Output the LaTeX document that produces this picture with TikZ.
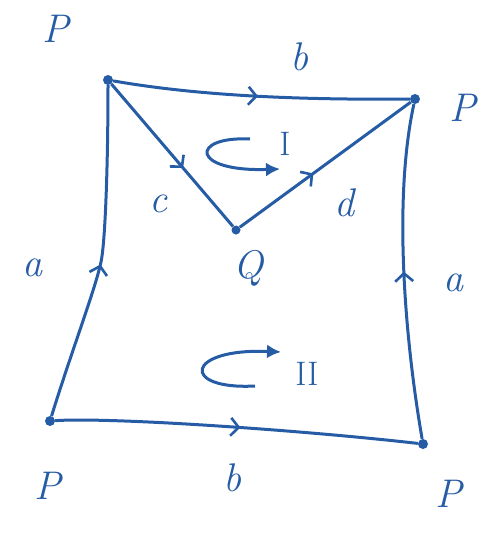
\documentclass[tikz,border=0pt]{standalone}
\usetikzlibrary{arrows.meta,decorations.markings}
\definecolor{ink}{RGB}{38,92,165}
\begin{document}
\begin{tikzpicture}[x=1pt,y=-1pt,
  edge/.style={draw=ink,line width=3pt,postaction={decorate},
    decoration={markings,mark=at position #1 with {\arrow[ink,line width=2.6pt]{Straight Barb[length=8pt,width=18pt]}}}},
  edge/.default=0.5,
  vtx/.style={circle,fill=ink,inner sep=0pt,minimum size=10pt},
  lbl/.style={text=ink,font=\fontsize{40}{46}\selectfont\itshape},
  rot/.style={draw=ink,line width=3pt,-{Latex[length=14pt,width=14pt]}}]
\useasboundingbox (0,0) rectangle (481,554);
\node[vtx] (tl) at (108,80) {};
\node[vtx] (tr) at (415,99) {};
\node[vtx] (bl) at (50,421) {};
\node[vtx] (br) at (423,444) {};
\node[vtx,minimum size=9pt] (q) at (236,230) {};
\coordinate (lm) at (101,262);
% edges
\path[edge=0.49] (tl) .. controls (200,96) and (300,100) .. (tr);
\path[edge=0.51] (bl) .. controls (110,417) and (300,430) .. (br);
\path[edge=0.47] (bl) .. controls (72,350) and (95,290) .. (lm) .. controls (105.5,241) and (108,160) .. (tl);
\path[edge=0.5] (br) .. controls (405,340) and (393,200) .. (tr);
\path[edge=0.59] (tl) -- (q);
\path[edge=0.43] (q) -- (tr);
% rotation arrows
\draw[rot] (250,139) .. controls (190,136) and (190,172) .. (280,169);
\draw[rot] (255,386) .. controls (180,390) and (185,348) .. (281,352);
% labels
\node[lbl] (p1) at (56,29) {P};
\node[lbl] (b1) at (299,57) {b};
\node[lbl] (p2) at (463,108) {P};
\node[lbl] (c) at (158,204) {c};
\node[lbl] (d) at (344,203) {d};
\node[lbl] (a1) at (32,268) {a};
\node[lbl] (ql) at (248,268) {Q};
\node[lbl] (a2) at (453,283) {a};
\node[lbl] (p3) at (48,486) {P};
\node[lbl] (b2) at (232,478) {b};
\node[lbl] (p4) at (449,494) {P};
\node[text=ink,font=\fontsize{34}{38}\selectfont] (one) at (285,144) {I};
\node[text=ink,font=\fontsize{34}{38}\selectfont] (two) at (307,374) {II};
\end{tikzpicture}
\end{document}
